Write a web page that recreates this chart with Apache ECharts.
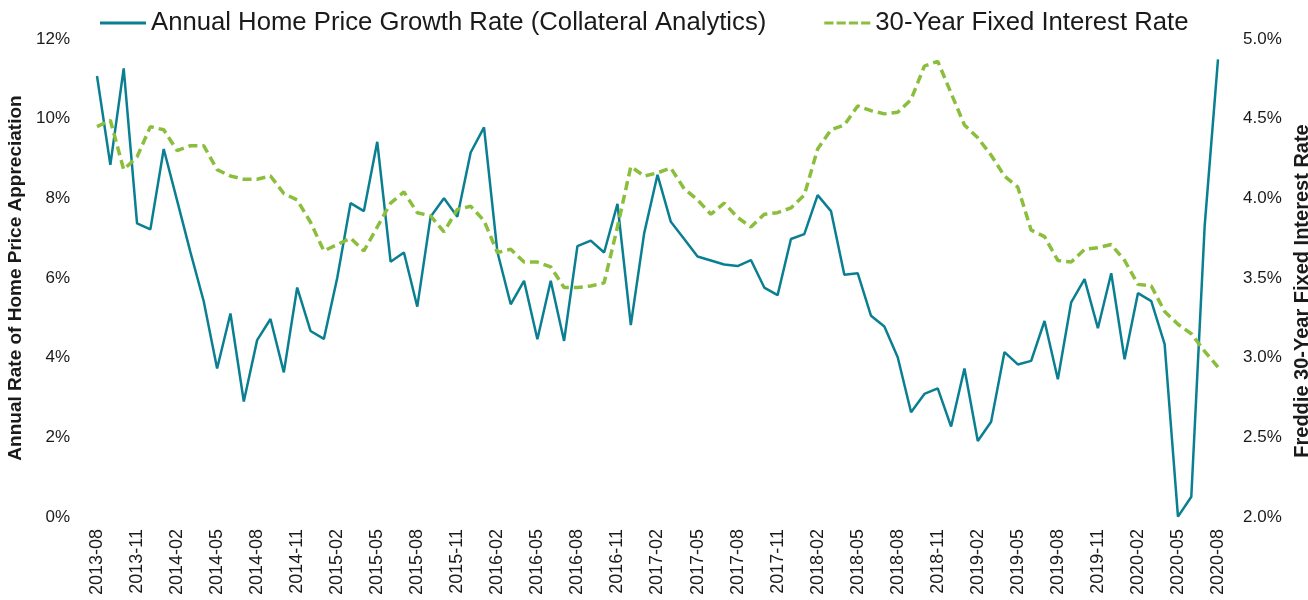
<!DOCTYPE html>
<html>
<head>
<meta charset="utf-8">
<script src="https://cdn.jsdelivr.net/npm/echarts@6/dist/echarts.min.js"></script>
<style>
  html, body { margin: 0; padding: 0; background: #fff; }
  #chart { width: 1308px; height: 600px; }
</style>
</head>
<body>
<div id="chart"></div>
<script>
// months 2013-08 .. 2020-08
const months = [];
for (let y = 2013, m = 8; y < 2020 || (y === 2020 && m <= 8); m++) {
  if (m > 12) { m = 1; y++; }
  months.push(y + "-" + String(m).padStart(2, "0"));
}

const homePriceGrowth = [
  11.07, 8.84, 11.26, 7.37, 7.22, 9.24, 7.95, 6.65, 5.41, 3.73,
  5.11, 2.90, 4.44, 4.97, 3.63, 5.76, 4.67, 4.47, 6.00, 7.88,
  7.68, 9.42, 6.41, 6.64, 5.28, 7.54, 8.00, 7.54, 9.15, 9.78,
  6.66, 5.34, 5.93, 4.46, 5.93, 4.42, 6.80, 6.94, 6.64, 7.86,
  4.82, 7.12, 8.59, 7.41, 6.98, 6.54, 6.44, 6.34, 6.30, 6.45,
  5.76, 5.57, 6.98, 7.10, 8.08, 7.68, 6.08, 6.12, 5.05, 4.78,
  4.01, 2.63, 3.09, 3.23, 2.27, 3.73, 1.91, 2.39, 4.14, 3.83,
  3.92, 4.92, 3.46, 5.39, 5.97, 4.74, 6.12, 3.96, 5.62, 5.42,
  4.34, 0.01, 0.51, 7.30, 11.49
];

const fixedRate30 = [
  4.45, 4.49, 4.18, 4.26, 4.45, 4.43, 4.30, 4.33, 4.33, 4.18,
  4.14, 4.12, 4.12, 4.14, 4.03, 3.99, 3.85, 3.67, 3.71, 3.75,
  3.67, 3.82, 3.97, 4.04, 3.91, 3.89, 3.79, 3.93, 3.95, 3.86,
  3.66, 3.68, 3.60, 3.60, 3.57, 3.44, 3.44, 3.45, 3.47, 3.82,
  4.20, 4.14, 4.16, 4.19, 4.06, 3.99, 3.90, 3.97, 3.88, 3.82,
  3.90, 3.91, 3.94, 4.02, 4.31, 4.43, 4.46, 4.58, 4.55, 4.53,
  4.54, 4.62, 4.83, 4.86, 4.66, 4.46, 4.38, 4.27, 4.14, 4.07,
  3.80, 3.76, 3.61, 3.60, 3.68, 3.69, 3.71, 3.61, 3.46, 3.45,
  3.29, 3.21, 3.15, 3.04, 2.94
];

const chart = echarts.init(document.getElementById("chart"));
const textColor = "#1a1a1a";
const fontFamily = "Liberation Sans, Arial, sans-serif";

chart.setOption({
  animation: false,
  textStyle: { fontFamily: fontFamily },
  legend: {
    top: 5,
    left: 95,
    itemGap: 58,
    itemWidth: 46,
    itemHeight: 14,
    textStyle: { fontSize: 25.7, color: textColor, fontFamily: fontFamily },
    data: [
      { name: "Annual Home Price Growth Rate (Collateral Analytics)", icon: "path://M0,6 L46,6 L46,9 L0,9 Z" },
      { name: "30-Year Fixed Interest Rate", icon: "path://M0,6 L9,6 L9,9 L0,9 Z M12,6 L21,6 L21,9 L12,9 Z M24,6 L33,6 L33,9 L24,9 Z M36,6 L45,6 L45,9 L36,9 Z" }
    ]
  },
  grid: { left: 97, right: 90, top: 39, bottom: 83, outerBoundsMode: "none" },
  xAxis: {
    type: "category",
    data: months,
    boundaryGap: false,
    axisLine: { show: false },
    axisTick: { show: false },
    axisLabel: {
      interval: 2,
      rotate: 90,
      margin: 12,
      fontSize: 18,
      color: textColor
    }
  },
  yAxis: [
    {
      type: "value",
      min: 0,
      max: 12,
      interval: 2,
      name: "Annual Rate of Home Price Appreciation",
      nameLocation: "middle",
      nameGap: 68,
      nameTextStyle: { fontSize: 19, fontWeight: "bold", color: textColor },
      axisLine: { show: false },
      axisTick: { show: false },
      splitLine: { show: false },
      axisLabel: { formatter: "{value}%", fontSize: 17, color: textColor, margin: 27 }
    },
    {
      type: "value",
      min: 2,
      max: 5,
      interval: 0.5,
      name: "Freddie 30-Year Fixed Interest Rate",
      nameLocation: "middle",
      nameGap: 68,
      nameTextStyle: { fontSize: 20, fontWeight: "bold", color: textColor, padding: [0, 26, 0, 0] },
      axisLine: { show: false },
      axisTick: { show: false },
      splitLine: { show: false },
      axisLabel: {
        formatter: v => v.toFixed(1) + "%",
        fontSize: 17,
        color: textColor,
        margin: 25
      }
    }
  ],
  series: [
    {
      name: "Annual Home Price Growth Rate (Collateral Analytics)",
      type: "line",
      yAxisIndex: 0,
      data: homePriceGrowth,
      symbol: "none",
      lineStyle: { color: "#0A7F92", width: 2.5 },
      itemStyle: { color: "#0A7F92" }
    },
    {
      name: "30-Year Fixed Interest Rate",
      type: "line",
      yAxisIndex: 1,
      data: fixedRate30,
      symbol: "none",
      lineStyle: { color: "#8BBE3C", width: 3.5, type: [9, 5] },
      itemStyle: { color: "#8BBE3C" }
    }
  ]
});
</script>
</body>
</html>
